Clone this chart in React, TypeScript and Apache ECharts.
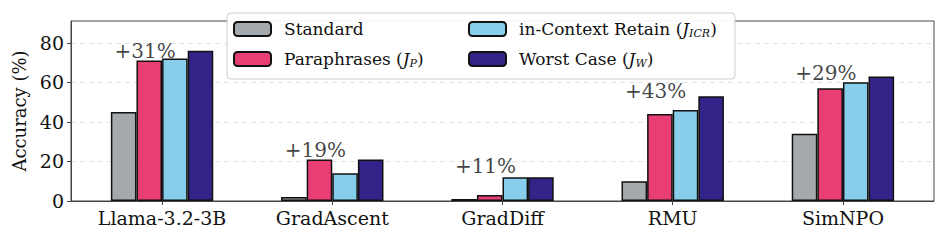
import React, { useEffect, useRef } from "react";
import * as echarts from "echarts";

const categories = ["Llama-3.2-3B", "GradAscent", "GradDiff", "RMU", "SimNPO"];
const seriesNames = ["Standard", "Paraphrases (JP)", "in-Context Retain (JICR)", "Worst Case (JW)"];
const standard = [45, 2, 1, 10, 34];
const paraphrases = [71, 21, 3, 44, 57];
const icr = [72, 14, 12, 46, 60];
const worst = [76, 21, 12, 53, 63];
const annotText = ["+31%", "+19%", "+11%", "+43%", "+29%"];
const annotY = [71, 20.5, 12.5, 50.5, 59.5];
const yTicks = [0, 20, 40, 60, 80];
const colors = ["#A3A9AD", "#E83E74", "#87CEEB", "#332288"];

const FONT = "'DejaVu Serif', serif";

export default function App() {
  const ref = useRef<HTMLDivElement>(null);
  useEffect(() => {
    document.body.style.margin = "0";
    const chart = echarts.init(ref.current!, null, { renderer: "svg" });
    const values = [standard, paraphrases, icr, worst];
    const catIdx = categories.map((_, i) => i);
    const rich = {
      j: { fontFamily: FONT, fontStyle: "italic", fontSize: 17, color: "#111" },
      s: { fontFamily: FONT, fontStyle: "italic", fontSize: 11, color: "#111", padding: [9, 0, 0, 0] },
      t: { fontFamily: FONT, fontSize: 17, color: "#111" },
    };
    const fmt = (name: string) => {
      if (name === "Paraphrases (JP)") return "{t|Paraphrases (}{j|J}{s|P}{t|)}";
      if (name === "in-Context Retain (JICR)") return "{t|in-Context Retain (}{j|J}{s|ICR}{t|)}";
      if (name === "Worst Case (JW)") return "{t|Worst Case (}{j|J}{s|W}{t|)}";
      return "{t|" + name + "}";
    };
    const legendCommon = {
      orient: "vertical",
      top: 19,
      itemWidth: 37,
      itemHeight: 14,
      itemGap: 10,
      padding: 0,
      formatter: fmt,
      textStyle: { fontFamily: FONT, fontSize: 17, color: "#111", lineHeight: 20, padding: [0, 0, 0, 8], rich },
    };
    const option: any = {
      animation: false,
      textStyle: { fontFamily: FONT },
      grid: { left: 71, right: 13, top: 21, bottom: 40, show: true, borderColor: "#444", borderWidth: 1 },
      legend: [
        { ...legendCommon, left: 233, data: [seriesNames[0], seriesNames[1]] },
        { ...legendCommon, left: 468, data: [seriesNames[2], seriesNames[3]] },
      ],
      graphic: [
        {
          type: "rect",
          z: 3,
          shape: { x: 227, y: 13, width: 508, height: 66, r: 4 },
          style: { fill: "rgba(255,255,255,0.95)", stroke: "#cccccc", lineWidth: 1 },
        },
      ],
      xAxis: {
        type: "value",
        min: -0.535,
        max: 4.535,
        splitLine: { show: false },
        axisLine: { show: true, onZero: false, lineStyle: { color: "#444", width: 1 } },
        axisTick: { show: true, length: 4, customValues: catIdx, lineStyle: { color: "#444" } },
        axisLabel: {
          fontFamily: FONT,
          fontSize: 19,
          color: "#111",
          margin: 7,
          customValues: catIdx,
          formatter: (v: number) => categories[Math.round(v)] ?? "",
        },
      },
      yAxis: {
        type: "value",
        min: 0,
        max: 91,
        interval: 20,
        name: "Accuracy (%)",
        nameLocation: "middle",
        nameGap: 36,
        nameTextStyle: { fontFamily: FONT, fontSize: 18, color: "#111" },
        axisLine: { show: true, onZero: false, lineStyle: { color: "#444", width: 1 } },
        axisTick: { show: true, length: 4, customValues: yTicks, lineStyle: { color: "#444" } },
        axisLabel: {
          fontFamily: FONT,
          fontSize: 19,
          color: "#111",
          margin: 7,
          customValues: yTicks,
          formatter: (v: number) => String(v),
        },
        splitLine: { show: true, lineStyle: { color: "#e3e3e3", type: [5, 4], width: 1 } },
      },
      series: [
        ...values.map((d, i) => ({
          name: seriesNames[i],
          type: "bar",
          data: d.map((v, k) => [k, v]),
          barWidth: 25.6,
          barGap: "0%",
          itemStyle: { color: colors[i], borderColor: "#111", borderWidth: 1.5 },
          emphasis: { disabled: true },
        })),
        {
          type: "scatter",
          symbolSize: 0,
          data: annotY.map((y, i) => [i, y]),
          label: {
            show: true,
            position: "top",
            distance: 0,
            offset: [-17, 0],
            formatter: (p: any) => annotText[p.dataIndex],
            fontFamily: FONT,
            fontSize: 20,
            color: "#111",
          },
          z: 5,
        },
      ],
    };
    chart.setOption(option);
    return () => chart.dispose();
  }, []);
  return <div ref={ref} style={{ width: 947, height: 241 }} />;
}
